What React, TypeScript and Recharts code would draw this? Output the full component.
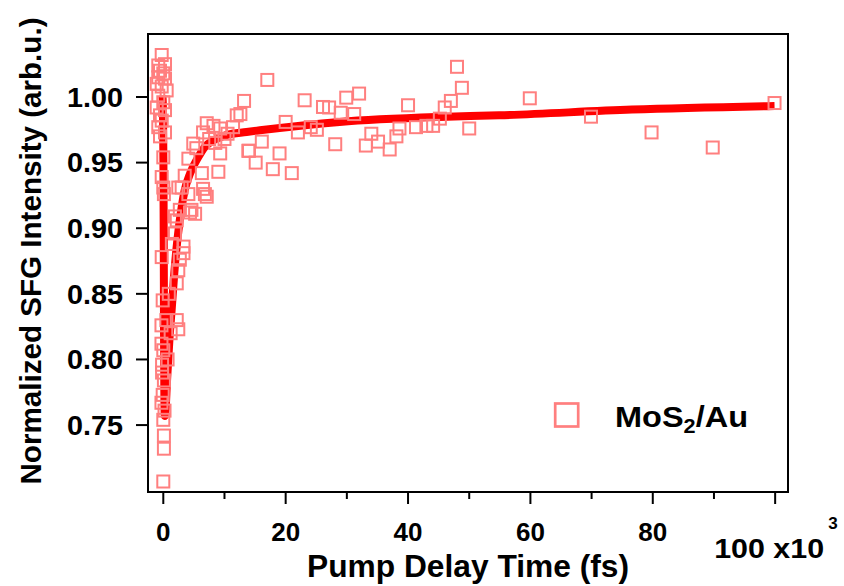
import React from 'react';
import { ComposedChart, Scatter, Line, XAxis, YAxis, Legend, ReferenceArea } from 'recharts';

// x in units of 10^3 fs
const nearZeroPoints = [
  { x: -0.26, y: 1.032 }, { x: -0.82, y: 1.024 }, { x: 0.28, y: 1.025 }, { x: -0.54, y: 1.02 },
  { x: 0.0, y: 1.018 }, { x: -0.82, y: 1.015 }, { x: 0.28, y: 1.014 }, { x: -1.08, y: 1.01 },
  { x: -0.26, y: 1.008 }, { x: 0.55, y: 1.005 }, { x: -0.82, y: 1.001 }, { x: 0.0, y: 0.996 },
  { x: -1.08, y: 0.992 }, { x: 0.28, y: 0.99 }, { x: -0.54, y: 0.986 }, { x: -0.26, y: 0.982 },
  { x: -0.82, y: 0.977 }, { x: 0.28, y: 0.973 }, { x: -0.54, y: 0.97 }, { x: 0.0, y: 0.954 },
  { x: -0.26, y: 0.939 }, { x: 0.0, y: 0.931 }, { x: 0.1, y: 0.926 }, { x: -0.26, y: 0.878 },
  { x: -0.1, y: 0.845 }, { x: -0.3, y: 0.826 }, { x: -0.3, y: 0.812 }, { x: 0.0, y: 0.807 },
  { x: -0.2, y: 0.796 }, { x: -0.2, y: 0.79 }, { x: 0.1, y: 0.784 }, { x: -0.1, y: 0.773 },
  { x: -0.3, y: 0.767 }, { x: 0.2, y: 0.761 }, { x: 0.0, y: 0.754 }, { x: 0.1, y: 0.742 },
  { x: 0.1, y: 0.732 }, { x: 0.0, y: 0.707 },
];

const risePoints = [
  { x: 0.5, y: 0.83 }, { x: 0.7, y: 0.8 }, { x: 0.9, y: 0.85 }, { x: 1.2, y: 0.82 },
  { x: 1.4, y: 0.888 }, { x: 1.9, y: 0.896 }, { x: 1.9, y: 0.909 }, { x: 2.2, y: 0.906 },
  { x: 2.2, y: 0.83 }, { x: 2.45, y: 0.823 }, { x: 2.2, y: 0.858 }, { x: 2.45, y: 0.868 },
  { x: 2.7, y: 0.876 }, { x: 3.3, y: 0.881 }, { x: 3.3, y: 0.886 }, { x: 2.7, y: 0.914 },
  { x: 2.45, y: 0.931 }, { x: 3.0, y: 0.931 }, { x: 3.5, y: 0.94 }, { x: 4.1, y: 0.926 },
  { x: 4.6, y: 0.914 }, { x: 5.2, y: 0.911 }, { x: 4.36, y: 0.912 }, { x: 4.1, y: 0.953 },
  { x: 4.9, y: 0.9645 }, { x: 5.4, y: 0.961 }, { x: 6.3, y: 0.942 }, { x: 6.5, y: 0.93 },
  { x: 6.8, y: 0.926 }, { x: 7.1, y: 0.924 }, { x: 6.5, y: 0.973 }, { x: 7.1, y: 0.98 },
  { x: 8.2, y: 0.978 }, { x: 9.3, y: 0.976 }, { x: 11.4, y: 0.977 }, { x: 9.3, y: 0.957 },
  { x: 9.0, y: 0.943 }, { x: 12.0, y: 0.986 }, { x: 13.9, y: 0.959 }, { x: 7.5, y: 0.968 },
  { x: 8.5, y: 0.965 }, { x: 10.0, y: 0.968 }, { x: 10.5, y: 0.972 },
];

const midPoints = [
  { x: 17.0, y: 1.013 }, { x: 13.2, y: 0.997 }, { x: 12.6, y: 0.987 }, { x: 23.1, y: 0.9975 },
  { x: 26.1, y: 0.9924 }, { x: 27.1, y: 0.992 }, { x: 29.9, y: 0.9995 }, { x: 32.0, y: 1.0026 },
  { x: 29.0, y: 0.988 }, { x: 31.2, y: 0.987 }, { x: 20.0, y: 0.981 }, { x: 22.0, y: 0.973 },
  { x: 24.1, y: 0.977 }, { x: 25.1, y: 0.975 }, { x: 16.1, y: 0.966 }, { x: 14.0, y: 0.959 },
  { x: 19.0, y: 0.957 }, { x: 15.1, y: 0.95 }, { x: 17.9, y: 0.945 }, { x: 21.0, y: 0.942 },
  { x: 28.1, y: 0.964 }, { x: 33.1, y: 0.963 }, { x: 34.0, y: 0.972 }, { x: 35.1, y: 0.966 },
  { x: 37.0, y: 0.96 }, { x: 38.1, y: 0.97 }, { x: 38.6, y: 0.976 }, { x: 40.0, y: 0.9937 },
  { x: 41.3, y: 0.977 }, { x: 43.0, y: 0.978 }, { x: 44.1, y: 0.978 }, { x: 45.2, y: 0.9835 },
  { x: 46.0, y: 0.992 }, { x: 47.0, y: 0.997 }, { x: 48.8, y: 1.007 }, { x: 48.0, y: 1.023 },
  { x: 50.0, y: 0.976 },
];

const latePoints = [
  { x: 59.9, y: 0.999 }, { x: 69.9, y: 0.985 }, { x: 79.8, y: 0.973 }, { x: 89.8, y: 0.9615 },
  { x: 99.9, y: 0.9954 },
];

const fitCurve = [
  { x: -0.15, y: 1.001 }, { x: -0.05, y: 0.99 }, { x: 0.02, y: 0.95 }, { x: 0.08, y: 0.88 },
  { x: 0.12, y: 0.82 }, { x: 0.17, y: 0.775 }, { x: 0.24, y: 0.757 }, { x: 0.35, y: 0.76 },
  { x: 0.6, y: 0.783 }, { x: 1.0, y: 0.815 }, { x: 1.4, y: 0.84 }, { x: 1.8, y: 0.866 },
  { x: 2.3, y: 0.891 }, { x: 3.0, y: 0.916 }, { x: 3.5, y: 0.929 }, { x: 4.4, y: 0.942 },
  { x: 5.7, y: 0.954 }, { x: 6.8, y: 0.962 }, { x: 8.2, y: 0.967 }, { x: 10.3, y: 0.971 },
  { x: 13.6, y: 0.9733 }, { x: 15.8, y: 0.9746 }, { x: 28.8, y: 0.981 }, { x: 45.1, y: 0.9848 },
  { x: 54.9, y: 0.986 }, { x: 76.6, y: 0.9904 }, { x: 99.9, y: 0.9931 },
];

const xTicks = [0, 10, 20, 30, 40, 50, 60, 70, 80, 90, 100];
const yTicks = [0.75, 0.8, 0.85, 0.9, 0.95, 1.0];
const xDomain = [-2.5, 102.1];
const yDomain = [0.699, 1.048];

const scatterData = [...nearZeroPoints, ...risePoints, ...midPoints, ...latePoints];

const FONT = '"Liberation Sans", Arial, Helvetica, sans-serif';
const SQUARE = '#FF7F7F';

const Square = (props: any) => {
  const { cx, cy } = props;
  if (cx == null || cy == null) return null;
  return <rect x={cx - 6} y={cy - 6} width={12} height={12} fill="none" stroke={SQUARE} strokeWidth={2} />;
};

const XTick = (props: any) => {
  const { x, y, payload } = props;
  const v = payload.value;
  const major = v % 20 === 0;
  return (
    <g>
      <line x1={x} x2={x} y1={y} y2={y + (major ? 12 : 7)} stroke="#000" strokeWidth={2} />
      {major && v !== 100 && (
        <text x={x} y={y + 49} textAnchor="middle" fontFamily={FONT} fontWeight="bold" fontSize={26} fill="#000">
          {v}
        </text>
      )}
      {v === 100 && (
        <g>
          <text x={x - 61} y={y + 66} fontFamily={FONT} fontWeight="bold" fontSize={27} fill="#000" textLength={110} lengthAdjust="spacingAndGlyphs">
            100 x10
          </text>
          <text x={x + 53} y={y + 37} fontFamily={FONT} fontWeight="bold" fontSize={17} fill="#000">
            3
          </text>
        </g>
      )}
    </g>
  );
};

const YTick = (props: any) => {
  const { x, y, payload } = props;
  return (
    <g>
      <line x1={x} x2={x - 12} y1={y} y2={y} stroke="#000" strokeWidth={2} />
      <text x={x - 25} y={y} dy="0.36em" textAnchor="end" fontFamily={FONT} fontWeight="bold" fontSize={27} fill="#000" textLength={56} lengthAdjust="spacingAndGlyphs">
        {Number(payload.value).toFixed(2)}
      </text>
    </g>
  );
};

const LegendBox = () => (
  <svg width={220} height={50} style={{ display: 'block' }}>
    <rect x={5.2} y={8.5} width={23} height={23} fill="none" stroke={SQUARE} strokeWidth={2.7} />
    <text x={65} y={31.7} fontFamily={FONT} fontWeight="bold" fontSize={30} fill="#000" textLength={133} lengthAdjust="spacingAndGlyphs">
      MoS<tspan fontSize={20} dy={6.3}>2</tspan><tspan dy={-6.3}>/Au</tspan>
    </text>
  </svg>
);

export default function App() {
  return (
    <div style={{ position: 'fixed', left: 0, top: 0, width: 844, height: 586, background: '#fff' }}>
      <ComposedChart width={844} height={586} margin={{ top: 34, right: 56, bottom: 34, left: 48 }}>
        <XAxis
          type="number"
          dataKey="x"
          domain={xDomain}
          ticks={xTicks}
          allowDataOverflow
          height={60}
          axisLine={false}
          tickLine={false}
          tickSize={0}
          tickMargin={0}
          interval={0}
          tick={<XTick />}
          label={{
            content: () => (
              <text x={468} y={577} textAnchor="middle" fontFamily={FONT} fontWeight="bold" fontSize={31} fill="#000" textLength={322} lengthAdjust="spacingAndGlyphs">
                Pump Delay Time (fs)
              </text>
            ),
          }}
        />
        <YAxis
          type="number"
          dataKey="y"
          domain={yDomain}
          ticks={yTicks}
          allowDataOverflow
          width={100}
          axisLine={false}
          tickLine={false}
          tickSize={0}
          tickMargin={0}
          interval={0}
          tick={<YTick />}
          label={{
            content: () => (
              <text x={41} y={251} transform="rotate(-90 41 251)" textAnchor="middle" fontFamily={FONT} fontWeight="bold" fontSize={30} fill="#000" textLength={467} lengthAdjust="spacingAndGlyphs">
                Normalized SFG Intensity (arb.u.)
              </text>
            ),
          }}
        />
        <Scatter data={scatterData} shape={<Square />} isAnimationActive={false} legendType="square" name="MoS2/Au" />
        <Line
          data={fitCurve}
          dataKey="y"
          type="monotone"
          stroke="#FF0000"
          strokeWidth={8}
          strokeLinejoin="round"
          dot={false}
          activeDot={false}
          isAnimationActive={false}
          legendType="none"
        />
        <ReferenceArea
          x1={xDomain[0]}
          x2={xDomain[1]}
          y1={yDomain[0]}
          y2={yDomain[1]}
          fill="none"
          stroke="#000"
          strokeWidth={2}
          ifOverflow="visible"
        />
        <Legend
          layout="horizontal"
          verticalAlign="middle"
          align="center"
          content={<LegendBox />}
          wrapperStyle={{ position: 'absolute', left: 550, top: 395, width: 220, height: 50 }}
        />
      </ComposedChart>
    </div>
  );
}
